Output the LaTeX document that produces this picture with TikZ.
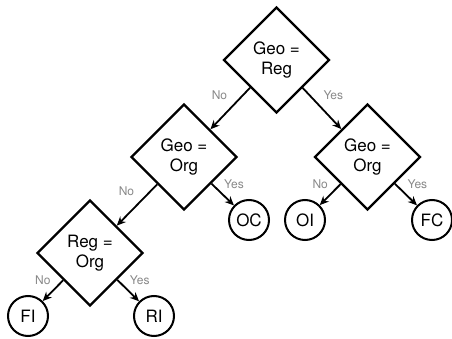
\documentclass[tikz,border=0pt]{standalone}
\usepackage{fontspec}
\setmainfont{TeX Gyre Heros}
\usetikzlibrary{arrows.meta,positioning,shapes.geometric}
\definecolor{labelgray}{RGB}{136,136,136}
\begin{document}
\begin{tikzpicture}[->, >={Stealth[length=9pt,width=8pt]}, line width=1.8pt, on grid,
    test node/.style={diamond, draw, line width=2.3pt, aspect=1, minimum size=106pt, inner sep=0pt, align=center},
    leaf node/.style={circle, draw, line width=2pt, minimum size=40pt, inner sep=0pt}]
        \tikzstyle{every node}=[font=\fontsize{17}{19.5}\selectfont]
        \useasboundingbox (0pt,0pt) rectangle (452pt,-339pt);

          \node[test node] (1) at (276.5pt,-60pt) {Geo =\\Reg};
          \node[test node] (2) [below left=97pt and 92.5pt of 1] {Geo =\\Org};
          \node[test node] (3) [below right=97pt and 91pt of 1] {Geo =\\Org};
          \node[test node] (4) [below left=96pt and 94pt of 2] {Reg =\\Org};
          \node[leaf node] (5) [below left=63pt and 62pt of 4] {FI};
          \node[leaf node] (6) [below right=63pt and 64pt of 4] {RI};
          \node[leaf node] (7) [below right=63pt and 65pt of 2] {OC};
          \node[leaf node] (8) [below left=63pt and 62.5pt of 3] {OI};
          \node[leaf node] (9) [below right=63pt and 64.5pt of 3] {FC};

          \path[every node/.style={font=\fontsize{12}{14}\selectfont, text=labelgray}]
            (1) edge node [pos=0.17, left=12pt] {No} (2)
                edge node [pos=0.17, right=10pt] {Yes} (3)
            (2) edge node [pos=0.17, left=12pt] {No} (4)
                edge node [pos=0.02, right=8pt] {Yes} (7)
            (3) edge node [pos=0.02, left=8pt] {No} (8)
                edge node [pos=0.02, right=8pt] {Yes} (9)
            (4) edge node [pos=0.02, left=8pt] {No} (5)
                edge node [pos=0.02, right=8pt] {Yes} (6);

        \end{tikzpicture}
\end{document}
